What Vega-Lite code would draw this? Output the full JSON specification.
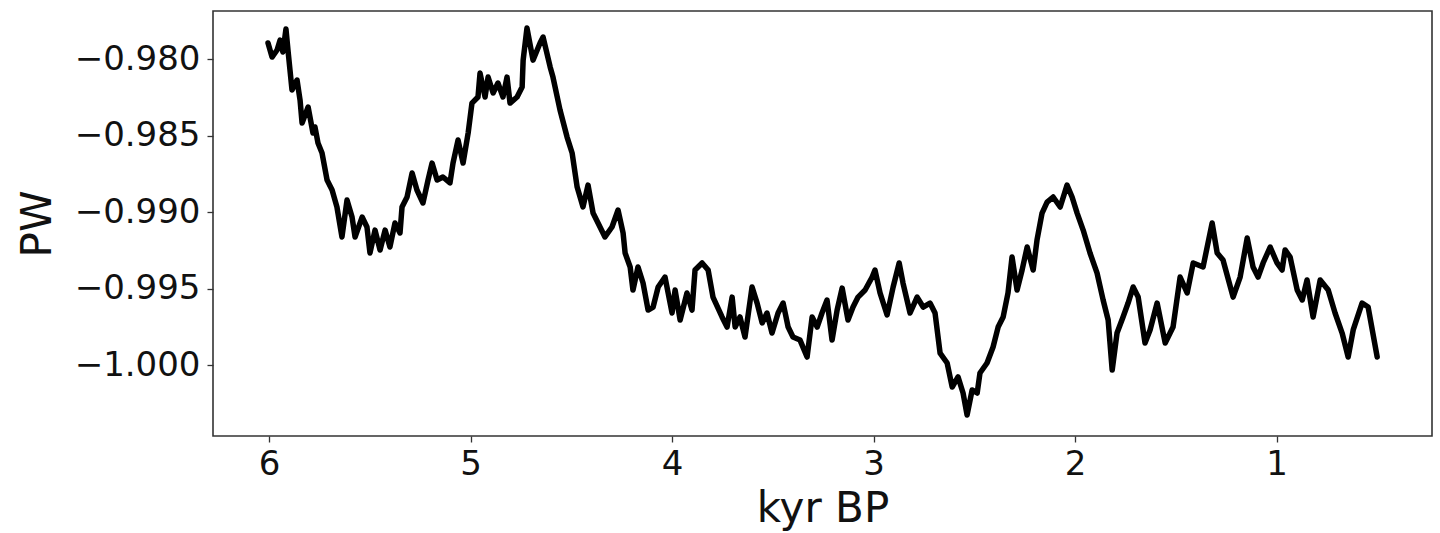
{
  "$schema": "https://vega.github.io/schema/vega-lite/v6.json",
  "autosize": "none",
  "width": 1219,
  "height": 425,
  "padding": {"left": 213, "top": 11, "right": 8, "bottom": 97},
  "background": "white",
  "config": {
    "view": {"stroke": "#333333", "strokeWidth": 1.6},
    "axis": {
      "grid": false,
      "domain": false,
      "tickColor": "#333333",
      "tickWidth": 1.3,
      "tickSize": 6,
      "labelFont": "DejaVu Sans",
      "labelFontSize": 34,
      "labelColor": "#111111",
      "titleFont": "DejaVu Sans",
      "titleFontSize": 42,
      "titleFontWeight": "normal",
      "titleColor": "#111111"
    }
  },
  "data": {
    "values": [
      {"kyr": 6.005, "PW": -0.97895},
      {"kyr": 5.985, "PW": -0.97987},
      {"kyr": 5.960, "PW": -0.97941},
      {"kyr": 5.945, "PW": -0.97876},
      {"kyr": 5.931, "PW": -0.97954},
      {"kyr": 5.916, "PW": -0.97804},
      {"kyr": 5.906, "PW": -0.97941},
      {"kyr": 5.896, "PW": -0.98072},
      {"kyr": 5.886, "PW": -0.98203},
      {"kyr": 5.861, "PW": -0.98137},
      {"kyr": 5.846, "PW": -0.98268},
      {"kyr": 5.836, "PW": -0.98418},
      {"kyr": 5.806, "PW": -0.98314},
      {"kyr": 5.782, "PW": -0.98484},
      {"kyr": 5.772, "PW": -0.98444},
      {"kyr": 5.757, "PW": -0.98549},
      {"kyr": 5.737, "PW": -0.98614},
      {"kyr": 5.712, "PW": -0.98791},
      {"kyr": 5.687, "PW": -0.98856},
      {"kyr": 5.663, "PW": -0.98967},
      {"kyr": 5.638, "PW": -0.99163},
      {"kyr": 5.613, "PW": -0.98922},
      {"kyr": 5.588, "PW": -0.99033},
      {"kyr": 5.573, "PW": -0.99163},
      {"kyr": 5.538, "PW": -0.99033},
      {"kyr": 5.514, "PW": -0.99098},
      {"kyr": 5.499, "PW": -0.99268},
      {"kyr": 5.474, "PW": -0.99118},
      {"kyr": 5.449, "PW": -0.99248},
      {"kyr": 5.424, "PW": -0.99118},
      {"kyr": 5.400, "PW": -0.99229},
      {"kyr": 5.375, "PW": -0.99072},
      {"kyr": 5.350, "PW": -0.99137},
      {"kyr": 5.340, "PW": -0.98967},
      {"kyr": 5.315, "PW": -0.98902},
      {"kyr": 5.290, "PW": -0.98745},
      {"kyr": 5.266, "PW": -0.98856},
      {"kyr": 5.236, "PW": -0.98941},
      {"kyr": 5.211, "PW": -0.98791},
      {"kyr": 5.191, "PW": -0.98680},
      {"kyr": 5.166, "PW": -0.98791},
      {"kyr": 5.137, "PW": -0.98771},
      {"kyr": 5.102, "PW": -0.98810},
      {"kyr": 5.087, "PW": -0.98680},
      {"kyr": 5.062, "PW": -0.98529},
      {"kyr": 5.037, "PW": -0.98680},
      {"kyr": 5.012, "PW": -0.98484},
      {"kyr": 4.993, "PW": -0.98288},
      {"kyr": 4.963, "PW": -0.98248},
      {"kyr": 4.953, "PW": -0.98092},
      {"kyr": 4.928, "PW": -0.98248},
      {"kyr": 4.913, "PW": -0.98118},
      {"kyr": 4.888, "PW": -0.98222},
      {"kyr": 4.864, "PW": -0.98157},
      {"kyr": 4.839, "PW": -0.98248},
      {"kyr": 4.819, "PW": -0.98118},
      {"kyr": 4.804, "PW": -0.98288},
      {"kyr": 4.769, "PW": -0.98248},
      {"kyr": 4.744, "PW": -0.98183},
      {"kyr": 4.739, "PW": -0.98007},
      {"kyr": 4.720, "PW": -0.97797},
      {"kyr": 4.690, "PW": -0.98007},
      {"kyr": 4.655, "PW": -0.97895},
      {"kyr": 4.640, "PW": -0.97856},
      {"kyr": 4.605, "PW": -0.98052},
      {"kyr": 4.591, "PW": -0.98118},
      {"kyr": 4.556, "PW": -0.98333},
      {"kyr": 4.521, "PW": -0.98510},
      {"kyr": 4.496, "PW": -0.98614},
      {"kyr": 4.471, "PW": -0.98837},
      {"kyr": 4.442, "PW": -0.98967},
      {"kyr": 4.417, "PW": -0.98824},
      {"kyr": 4.392, "PW": -0.99007},
      {"kyr": 4.333, "PW": -0.99163},
      {"kyr": 4.298, "PW": -0.99098},
      {"kyr": 4.268, "PW": -0.98987},
      {"kyr": 4.243, "PW": -0.99137},
      {"kyr": 4.233, "PW": -0.99268},
      {"kyr": 4.208, "PW": -0.99359},
      {"kyr": 4.194, "PW": -0.99510},
      {"kyr": 4.169, "PW": -0.99359},
      {"kyr": 4.144, "PW": -0.99464},
      {"kyr": 4.119, "PW": -0.99641},
      {"kyr": 4.094, "PW": -0.99621},
      {"kyr": 4.069, "PW": -0.99490},
      {"kyr": 4.035, "PW": -0.99425},
      {"kyr": 4.000, "PW": -0.99660},
      {"kyr": 3.985, "PW": -0.99510},
      {"kyr": 3.960, "PW": -0.99706},
      {"kyr": 3.926, "PW": -0.99529},
      {"kyr": 3.901, "PW": -0.99641},
      {"kyr": 3.886, "PW": -0.99379},
      {"kyr": 3.851, "PW": -0.99333},
      {"kyr": 3.821, "PW": -0.99379},
      {"kyr": 3.797, "PW": -0.99556},
      {"kyr": 3.752, "PW": -0.99686},
      {"kyr": 3.727, "PW": -0.99752},
      {"kyr": 3.702, "PW": -0.99556},
      {"kyr": 3.687, "PW": -0.99752},
      {"kyr": 3.663, "PW": -0.99686},
      {"kyr": 3.638, "PW": -0.99817},
      {"kyr": 3.603, "PW": -0.99490},
      {"kyr": 3.578, "PW": -0.99595},
      {"kyr": 3.553, "PW": -0.99725},
      {"kyr": 3.529, "PW": -0.99660},
      {"kyr": 3.504, "PW": -0.99791},
      {"kyr": 3.474, "PW": -0.99660},
      {"kyr": 3.449, "PW": -0.99595},
      {"kyr": 3.424, "PW": -0.99752},
      {"kyr": 3.400, "PW": -0.99817},
      {"kyr": 3.365, "PW": -0.99837},
      {"kyr": 3.330, "PW": -0.99948},
      {"kyr": 3.305, "PW": -0.99686},
      {"kyr": 3.280, "PW": -0.99752},
      {"kyr": 3.256, "PW": -0.99660},
      {"kyr": 3.231, "PW": -0.99575},
      {"kyr": 3.206, "PW": -0.99837},
      {"kyr": 3.181, "PW": -0.99641},
      {"kyr": 3.156, "PW": -0.99497},
      {"kyr": 3.127, "PW": -0.99706},
      {"kyr": 3.102, "PW": -0.99621},
      {"kyr": 3.077, "PW": -0.99556},
      {"kyr": 3.042, "PW": -0.99510},
      {"kyr": 3.007, "PW": -0.99425},
      {"kyr": 2.993, "PW": -0.99379},
      {"kyr": 2.968, "PW": -0.99529},
      {"kyr": 2.933, "PW": -0.99673},
      {"kyr": 2.903, "PW": -0.99490},
      {"kyr": 2.873, "PW": -0.99333},
      {"kyr": 2.854, "PW": -0.99464},
      {"kyr": 2.819, "PW": -0.99660},
      {"kyr": 2.784, "PW": -0.99556},
      {"kyr": 2.754, "PW": -0.99621},
      {"kyr": 2.720, "PW": -0.99595},
      {"kyr": 2.695, "PW": -0.99660},
      {"kyr": 2.670, "PW": -0.99922},
      {"kyr": 2.635, "PW": -0.99987},
      {"kyr": 2.610, "PW": -1.00144},
      {"kyr": 2.581, "PW": -1.00078},
      {"kyr": 2.556, "PW": -1.00183},
      {"kyr": 2.536, "PW": -1.00327},
      {"kyr": 2.511, "PW": -1.00163},
      {"kyr": 2.486, "PW": -1.00183},
      {"kyr": 2.472, "PW": -1.00052},
      {"kyr": 2.437, "PW": -0.99987},
      {"kyr": 2.407, "PW": -0.99882},
      {"kyr": 2.382, "PW": -0.99752},
      {"kyr": 2.357, "PW": -0.99686},
      {"kyr": 2.333, "PW": -0.99529},
      {"kyr": 2.313, "PW": -0.99294},
      {"kyr": 2.288, "PW": -0.99510},
      {"kyr": 2.263, "PW": -0.99379},
      {"kyr": 2.238, "PW": -0.99229},
      {"kyr": 2.208, "PW": -0.99379},
      {"kyr": 2.189, "PW": -0.99183},
      {"kyr": 2.164, "PW": -0.99007},
      {"kyr": 2.139, "PW": -0.98935},
      {"kyr": 2.109, "PW": -0.98902},
      {"kyr": 2.074, "PW": -0.98967},
      {"kyr": 2.040, "PW": -0.98824},
      {"kyr": 2.015, "PW": -0.98902},
      {"kyr": 1.990, "PW": -0.99007},
      {"kyr": 1.960, "PW": -0.99118},
      {"kyr": 1.926, "PW": -0.99268},
      {"kyr": 1.891, "PW": -0.99399},
      {"kyr": 1.861, "PW": -0.99575},
      {"kyr": 1.836, "PW": -0.99706},
      {"kyr": 1.816, "PW": -1.00033},
      {"kyr": 1.792, "PW": -0.99791},
      {"kyr": 1.762, "PW": -0.99686},
      {"kyr": 1.737, "PW": -0.99595},
      {"kyr": 1.712, "PW": -0.99490},
      {"kyr": 1.687, "PW": -0.99556},
      {"kyr": 1.653, "PW": -0.99856},
      {"kyr": 1.628, "PW": -0.99771},
      {"kyr": 1.593, "PW": -0.99595},
      {"kyr": 1.553, "PW": -0.99856},
      {"kyr": 1.514, "PW": -0.99752},
      {"kyr": 1.479, "PW": -0.99425},
      {"kyr": 1.444, "PW": -0.99529},
      {"kyr": 1.414, "PW": -0.99333},
      {"kyr": 1.365, "PW": -0.99359},
      {"kyr": 1.320, "PW": -0.99072},
      {"kyr": 1.295, "PW": -0.99268},
      {"kyr": 1.266, "PW": -0.99314},
      {"kyr": 1.216, "PW": -0.99556},
      {"kyr": 1.181, "PW": -0.99425},
      {"kyr": 1.146, "PW": -0.99170},
      {"kyr": 1.117, "PW": -0.99359},
      {"kyr": 1.092, "PW": -0.99425},
      {"kyr": 1.067, "PW": -0.99333},
      {"kyr": 1.032, "PW": -0.99229},
      {"kyr": 0.998, "PW": -0.99333},
      {"kyr": 0.973, "PW": -0.99379},
      {"kyr": 0.958, "PW": -0.99248},
      {"kyr": 0.933, "PW": -0.99294},
      {"kyr": 0.898, "PW": -0.99510},
      {"kyr": 0.873, "PW": -0.99575},
      {"kyr": 0.849, "PW": -0.99444},
      {"kyr": 0.819, "PW": -0.99686},
      {"kyr": 0.784, "PW": -0.99444},
      {"kyr": 0.744, "PW": -0.99510},
      {"kyr": 0.710, "PW": -0.99660},
      {"kyr": 0.675, "PW": -0.99791},
      {"kyr": 0.645, "PW": -0.99948},
      {"kyr": 0.620, "PW": -0.99771},
      {"kyr": 0.576, "PW": -0.99595},
      {"kyr": 0.546, "PW": -0.99621},
      {"kyr": 0.501, "PW": -0.99948}
    ]
  },
  "mark": {"type": "line", "color": "#000000", "strokeWidth": 5.5, "strokeJoin": "round", "strokeCap": "round", "clip": true},
  "encoding": {
    "x": {
      "field": "kyr",
      "type": "quantitative",
      "scale": {"domain": [0.229, 6.278], "reverse": true, "nice": false, "zero": false},
      "axis": {"values": [1, 2, 3, 4, 5, 6], "format": "d", "title": "kyr BP", "labelPadding": 5, "titlePadding": 7}
    },
    "y": {
      "field": "PW",
      "type": "quantitative",
      "scale": {"domain": [-1.00464, -0.97686], "nice": false, "zero": false},
      "axis": {"values": [-1.0, -0.995, -0.99, -0.985, -0.98], "format": ".3f", "title": "PW", "labelPadding": 7, "titlePadding": 15}
    }
  }
}
